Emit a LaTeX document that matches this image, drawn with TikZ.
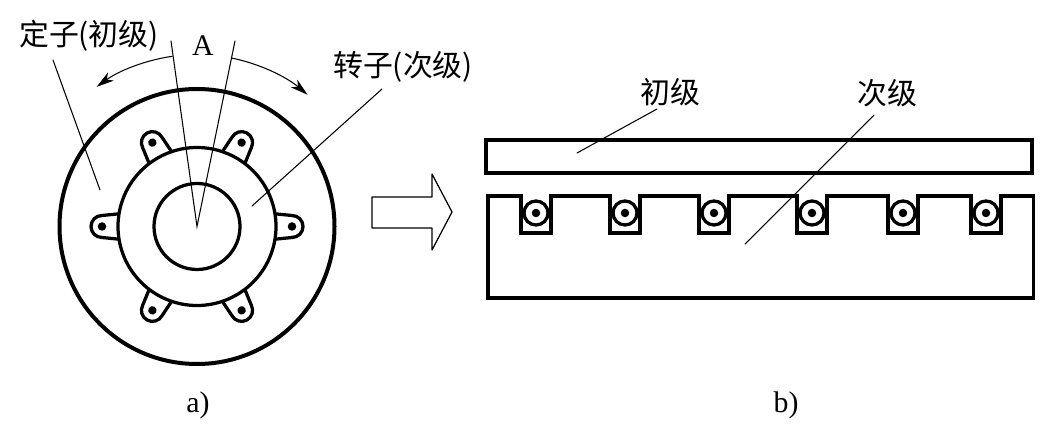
\documentclass[tikz,border=0pt]{standalone}
\usepackage{fontspec}
\setmainfont{Liberation Serif}
\newfontfamily\cjk{Noto Sans CJK SC}
\usetikzlibrary{arrows.meta}
\tikzset{
  label text/.style={font=\cjk\fontsize{17}{17}\selectfont,inner sep=0pt},
  letter text/.style={font=\fontsize{17}{17}\selectfont,inner sep=0pt},
  thick part/.style={line width=0.065cm,fill=white},
  leader/.style={line width=0.6pt},
}
\begin{document}
\begin{tikzpicture}[>={Stealth[length=3.5mm,width=2mm,inset=1mm]},line cap=round]
\useasboundingbox (0,0) rectangle (21.16,8.72);
% left view
\coordinate (hub) at (3.94,4.19);
\draw[line width=0.08cm] (hub) circle (2.75);
\foreach \ang in {0,62,118,180,242,298}{
\begin{scope}[shift={(hub)},rotate=\ang]
\draw[line width=0.065cm,fill=white] (1.5,0.26) -- (1.9,0.22) arc (90:-90:0.22) -- (1.5,-0.26);
\fill (1.9,0) circle (0.085);
\end{scope}
}
\draw[thick part] (hub) circle (1.58);
\draw[thick part] (hub) circle (0.86);
\coordinate (lineA) at (3.42,7.9);
\coordinate (lineB) at (4.7,7.9);
\draw[leader] (lineA) -- (hub) -- (lineB);
\draw[->,leader] ([shift={(98.3:3.44)}]hub) arc (98.3:125.7:3.44);
\draw[->,leader] ([shift={(78.3:3.44)}]hub) arc (78.3:50:3.44);
\node[letter text] (markA) at (4.06,7.8) {A};
% labels and their leaders
\node[label text] (stator) at (1.78,8.0) {定子(初级)};
\node[label text] (rotor) at (8.06,7.39) {转子(次级)};
\coordinate (statorFrom) at (1.06,7.52);
\coordinate (statorTo) at (2.0,4.92);
\coordinate (rotorFrom) at (7.64,6.94);
\coordinate (rotorTo) at (5.04,4.6);
\draw[leader] (statorFrom) -- (statorTo);
\draw[leader] (rotorFrom) -- (rotorTo);
% hollow arrow
\draw[line width=0.7pt,line join=round] (7.44,4.16) -- (8.64,4.16) -- (8.64,3.72) -- (9.04,4.48) -- (8.64,5.24) -- (8.64,4.78) -- (7.44,4.78) -- cycle;
% right view
\draw[line width=0.07cm,fill=white] (9.72,5.26) rectangle (20.64,5.92);
\draw[line width=0.07cm,fill=white] (9.76,2.76) -- (9.76,4.8)
  \foreach \c in {10.72,12.5,14.28,16.24,18.06,19.72}{
    -- (\c-0.3,4.8) -- (\c-0.3,4.06) -- (\c+0.3,4.06) -- (\c+0.3,4.8)
  } -- (20.67,4.8) -- (20.67,2.76) -- cycle;
\foreach \c in {10.72,12.5,14.28,16.24,18.06,19.72}{
\draw[line width=0.065cm] (\c,4.46) circle (0.24);
\fill (\c,4.46) circle (0.085);
}
\node[label text] (primary) at (13.4,6.88) {初级};
\node[label text] (secondary) at (17.75,6.86) {次级};
\coordinate (primaryFrom) at (13.14,6.54);
\coordinate (primaryTo) at (11.54,5.66);
\coordinate (secondaryFrom) at (17.48,6.42);
\coordinate (secondaryTo) at (14.9,3.84);
\draw[leader] (primaryFrom) -- (primaryTo);
\draw[leader] (secondaryFrom) -- (secondaryTo);
\node[letter text] (partA) at (3.96,0.62) {a)};
\node[letter text] (partB) at (15.72,0.62) {b)};
\end{tikzpicture}
\end{document}
